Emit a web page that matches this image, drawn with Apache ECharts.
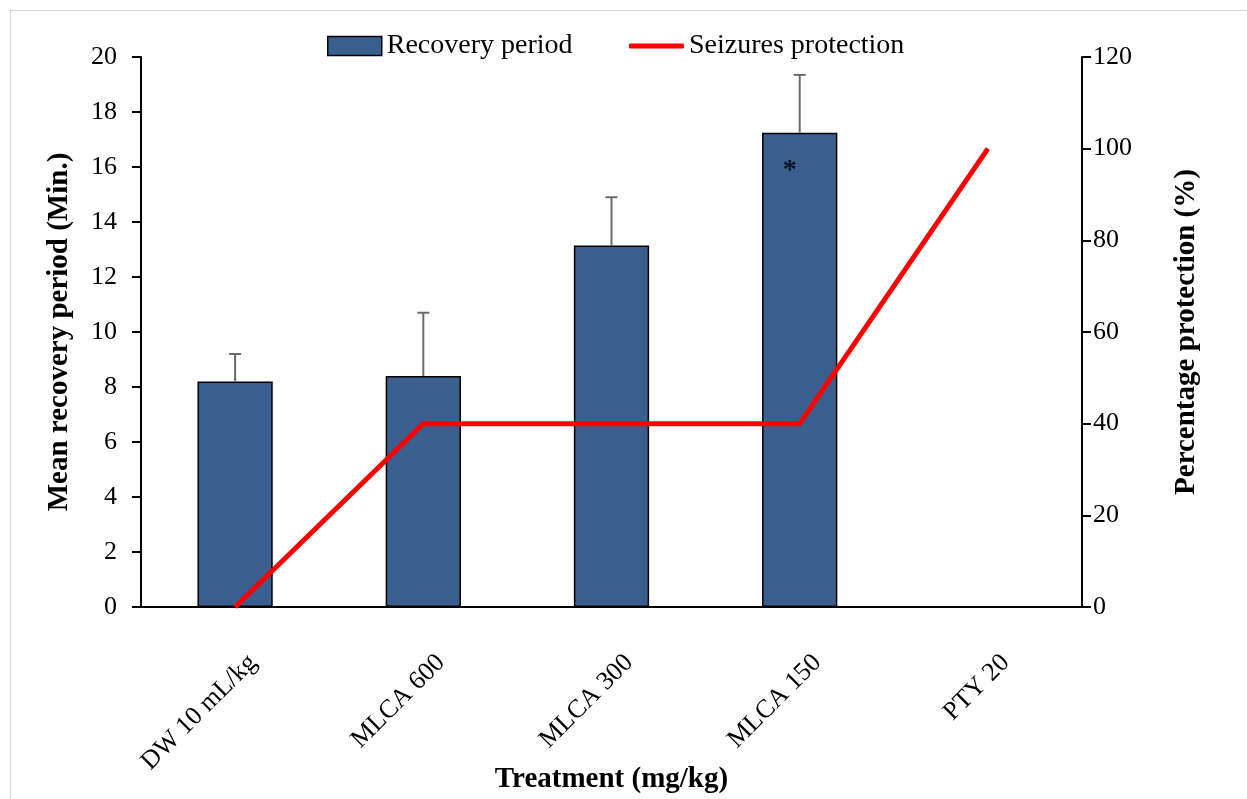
<!DOCTYPE html>
<html><head><meta charset="utf-8">
<script src="https://cdn.jsdelivr.net/npm/echarts@6/dist/echarts.min.js"></script>
<style>
html,body{margin:0;padding:0;background:#fff;}
#frame{position:absolute;left:10px;top:10px;width:1240px;height:792px;border:1.5px solid #d9d9d9;box-sizing:border-box;}
#c{position:absolute;left:0;top:0;width:1247px;height:799px;}
</style>
</head><body>
<div id="frame"></div>
<div id="c"></div>
<script>
const categories = ['DW 10 mL/kg', 'MLCA 600', 'MLCA 300', 'MLCA 150', 'PTY 20'];
const recovery = [8.2, 8.4, 13.15, 17.25, null];
const recoveryUpper = [9.2, 10.7, 14.9, 19.35, null];
const protection = [0, 40, 40, 40, 100];
const starMarks = [[3, 16, '*']];
const leftTicks = [0, 20, 2];
const rightTicks = [0, 120, 20];

const font = "'Liberation Serif','Times New Roman',serif";
const chart = echarts.init(document.getElementById('c'));

const errData = recovery.map((v, i) => v == null ? null : [i, v, recoveryUpper[i]]).filter(d => d);
const legendText = {fontFamily: font, fontSize: 28, color: '#000'};

chart.setOption({
  animation: false,
  backgroundColor: 'transparent',
  grid: {left: 141, right: 165, top: 57, bottom: 192, containLabel: false, outerBoundsMode: 'none'},
  legend: [
    {
      top: 27, left: 322, itemWidth: 54, itemHeight: 19, itemGap: 10,
      textStyle: legendText,
      data: [{name: 'Recovery period', icon: 'rect', itemStyle: {color: '#3A5F8E', borderColor: '#000', borderWidth: 1.5}}]
    },
    {
      top: 27, left: 624, itemWidth: 55, itemHeight: 5,
      textStyle: legendText,
      data: [{name: 'Seizures protection', icon: 'roundRect', itemStyle: {color: '#FF0000'}}]
    }
  ],
  xAxis: {
    type: 'category', data: categories,
    name: 'Treatment (mg/kg)', nameLocation: 'middle', nameGap: 158, nameMoveOverlap: false,
    nameTextStyle: {fontFamily: font, fontSize: 29, fontWeight: 'bold', color: '#000'},
    axisLine: {lineStyle: {color: '#000', width: 2}},
    axisTick: {alignWithLabel: true, length: 8, lineStyle: {color: '#000', width: 2}},
    axisLabel: {rotate: 45, fontFamily: font, fontSize: 26, color: '#000', margin: 34,
      verticalAlign: 'top', padding: [12, 0, 0, 0]}
  },
  yAxis: [
    {
      type: 'value', min: leftTicks[0], max: leftTicks[1], interval: leftTicks[2],
      name: 'Mean recovery period (Min.)', nameLocation: 'middle', nameGap: 67, nameRotate: 90,
      nameTextStyle: {fontFamily: font, fontSize: 29, fontWeight: 'bold', color: '#000'},
      axisLine: {show: true, lineStyle: {color: '#000', width: 2}},
      axisTick: {show: true, length: 9, lineStyle: {color: '#000', width: 2}},
      axisLabel: {fontFamily: font, fontSize: 26, color: '#000', margin: 24},
      splitLine: {show: false}
    },
    {
      type: 'value', min: rightTicks[0], max: rightTicks[1], interval: rightTicks[2],
      name: 'Percentage protection (%)', nameLocation: 'middle', nameGap: 90, nameRotate: 90,
      nameTextStyle: {fontFamily: font, fontSize: 29, fontWeight: 'bold', color: '#000'},
      axisLine: {show: true, lineStyle: {color: '#000', width: 2}},
      axisTick: {show: true, length: 9, lineStyle: {color: '#000', width: 2}},
      axisLabel: {fontFamily: font, fontSize: 26, color: '#000', margin: 11},
      splitLine: {show: false}
    }
  ],
  series: [
    {
      name: 'Recovery period', type: 'bar', data: recovery, barWidth: '40%',
      itemStyle: {color: '#3A5F8E', borderColor: '#000', borderWidth: 1.5}, z: 2
    },
    {
      name: 'errors', type: 'custom', data: errData, z: 3,
      renderItem: function (params, api) {
        const x = api.value(0);
        const p0 = api.coord([x, api.value(1)]);
        const p1 = api.coord([x, api.value(2)]);
        const cw = 6;
        return {type: 'group', children: [
          {type: 'line', shape: {x1: p0[0], y1: p0[1], x2: p1[0], y2: p1[1]}, style: {stroke: '#6b6b6b', lineWidth: 2}},
          {type: 'line', shape: {x1: p1[0]-cw, y1: p1[1], x2: p1[0]+cw, y2: p1[1]}, style: {stroke: '#6b6b6b', lineWidth: 2}}
        ]};
      }
    },
    {
      name: 'stars', type: 'scatter', data: starMarks, symbolSize: 0, z: 4, silent: true,
      label: {show: true, formatter: p => p.value[2], position: 'inside', offset: [-10, 4],
        fontFamily: font, fontSize: 28, fontWeight: 'bold', color: '#000'}
    },
    {
      name: 'Seizures protection', type: 'line', yAxisIndex: 1, data: protection,
      symbol: 'none', lineStyle: {color: '#FF0000', width: 5}, itemStyle: {color: '#FF0000'}, z: 5
    }
  ]
});
</script>
</body></html>
